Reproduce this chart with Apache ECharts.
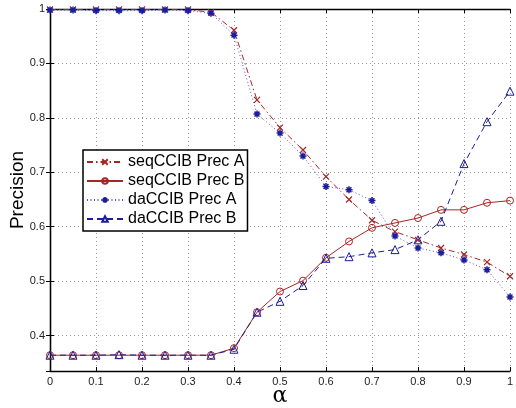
<!DOCTYPE html>
<html>
<head>
<meta charset="utf-8">
<script src="https://cdn.jsdelivr.net/npm/echarts@6/dist/echarts.min.js"></script>
<style>html,body{margin:0;padding:0;background:#fff}#c{width:516px;height:408px}</style>
</head>
<body>
<div id="c"></div>
<script>
var alphas = [0,0.05,0.1,0.15,0.2,0.25,0.3,0.35,0.4,0.45,0.5,0.55,0.6,0.65,0.7,0.75,0.8,0.85,0.9,0.95,1];
var seqPrecA = [0.999,0.999,0.999,0.999,0.999,0.999,0.999,0.994,0.961,0.833,0.782,0.741,0.692,0.650,0.612,0.591,0.576,0.561,0.549,0.535,0.509];
var seqPrecB = [0.364,0.364,0.364,0.364,0.364,0.364,0.364,0.364,0.377,0.443,0.481,0.501,0.543,0.573,0.598,0.607,0.616,0.631,0.631,0.644,0.648];
var daPrecA  = [0.998,0.998,0.997,0.997,0.997,0.998,0.997,0.992,0.952,0.807,0.772,0.730,0.674,0.668,0.648,0.583,0.561,0.552,0.539,0.521,0.471];
var daPrecB  = [0.364,0.364,0.364,0.365,0.364,0.364,0.364,0.364,0.375,0.443,0.463,0.492,0.542,0.545,0.552,0.558,0.576,0.610,0.716,0.793,0.849];
var seriesNames = ['seqCCIB Prec A','seqCCIB Prec B','daCCIB Prec A','daCCIB Prec B'];

function pairs(v){ return alphas.map(function(a,i){ return [a, v[i]]; }); }

var RED = '#a52626';
var BLUE = '#1c1c9c';
var FONT = 'Liberation Sans, Arial, sans-serif';

var chart = echarts.init(document.getElementById('c'), null, {renderer:'canvas'});
var axisLineStyle = {color:'#000', width:1.3};
chart.setOption({
  backgroundColor:'#fff',
  animation:false,
  grid:{left:50, right:6, top:9, bottom:37, containLabel:false, outerBoundsMode:'none'},
  legend:{
    orient:'vertical', left:83, top:150,
    padding:[4,3,4,3], itemGap:3, itemWidth:36, itemHeight:7,
    borderColor:'#000', borderWidth:1.5, backgroundColor:'#fff',
    textStyle:{fontFamily:FONT, fontSize:16, color:'#000', lineHeight:16},
    data:seriesNames
  },
  xAxis:[{
    type:'value', min:0, max:1, interval:0.1, position:'bottom',
    axisLine:{lineStyle:axisLineStyle},
    axisTick:{inside:true, length:4, lineStyle:{color:'#000'}},
    axisLabel:{fontFamily:FONT, fontSize:11, color:'#222', margin:5,
      formatter:function(v){ return String(Math.round(v*10)/10); }},
    splitLine:{show:true, lineStyle:{color:'#999', type:[1,3], width:1}},
    name:'α', nameLocation:'middle', nameGap:14, nameMoveOverlap:false,
    nameTextStyle:{fontFamily:'DejaVu Serif, serif', fontSize:22, color:'#000'}
  },{
    type:'value', min:0, max:1, interval:0.1, position:'top',
    axisLine:{lineStyle:axisLineStyle},
    axisTick:{inside:true, length:4, lineStyle:{color:'#000'}},
    axisLabel:{show:false}, splitLine:{show:false}
  }],
  yAxis:[{
    type:'value', min:0.335, max:1, minInterval:0.1, maxInterval:0.1, position:'left',
    axisLine:{lineStyle:axisLineStyle},
    axisTick:{inside:true, length:4, lineStyle:{color:'#000'}},
    axisLabel:{fontFamily:FONT, fontSize:11, color:'#222', margin:5, showMinLabel:false,
      formatter:function(v){ var r=Math.round(v*10)/10; if(Math.abs(r-v)>1e-6) return ''; return String(r); }},
    splitLine:{show:true, lineStyle:{color:'#999', type:[1,3], width:1}},
    name:'Precision', nameLocation:'middle', nameGap:23, nameMoveOverlap:false,
    nameTextStyle:{fontFamily:FONT, fontSize:19, color:'#000'}
  },{
    type:'value', min:0.335, max:1, minInterval:0.1, maxInterval:0.1, position:'right',
    axisLine:{lineStyle:axisLineStyle},
    axisTick:{inside:true, length:4, lineStyle:{color:'#000'}},
    axisLabel:{show:false}, splitLine:{show:false}
  }],
  series:[{
    name:seriesNames[0], type:'line', data:pairs(seqPrecA),
    symbol:'path://M0,0L10,10M10,0L0,10', symbolSize:6,
    itemStyle:{color:RED, borderColor:RED, borderWidth:1.2},
    lineStyle:{color:RED, width:1, type:[6,3,1.5,3]}
  },{
    name:seriesNames[1], type:'line', data:pairs(seqPrecB),
    symbol:'circle', symbolSize:7,
    itemStyle:{color:'rgba(0,0,0,0)', borderColor:RED, borderWidth:1},
    lineStyle:{color:RED, width:1, type:'solid'}
  },{
    name:seriesNames[2], type:'line', data:pairs(daPrecA),
    symbol:'path://M5,0L5,10M0,5L10,5M1.5,1.5L8.5,8.5M8.5,1.5L1.5,8.5', symbolSize:7,
    itemStyle:{color:BLUE, borderColor:BLUE, borderWidth:1.5},
    lineStyle:{color:'#5555cc', width:1, type:[1,2.5]}
  },{
    name:seriesNames[3], type:'line', data:pairs(daPrecB),
    symbol:'triangle', symbolSize:8,
    itemStyle:{color:'rgba(0,0,0,0)', borderColor:BLUE, borderWidth:1},
    lineStyle:{color:BLUE, width:1, type:[6,4]}
  }]
});
</script>
</body>
</html>
